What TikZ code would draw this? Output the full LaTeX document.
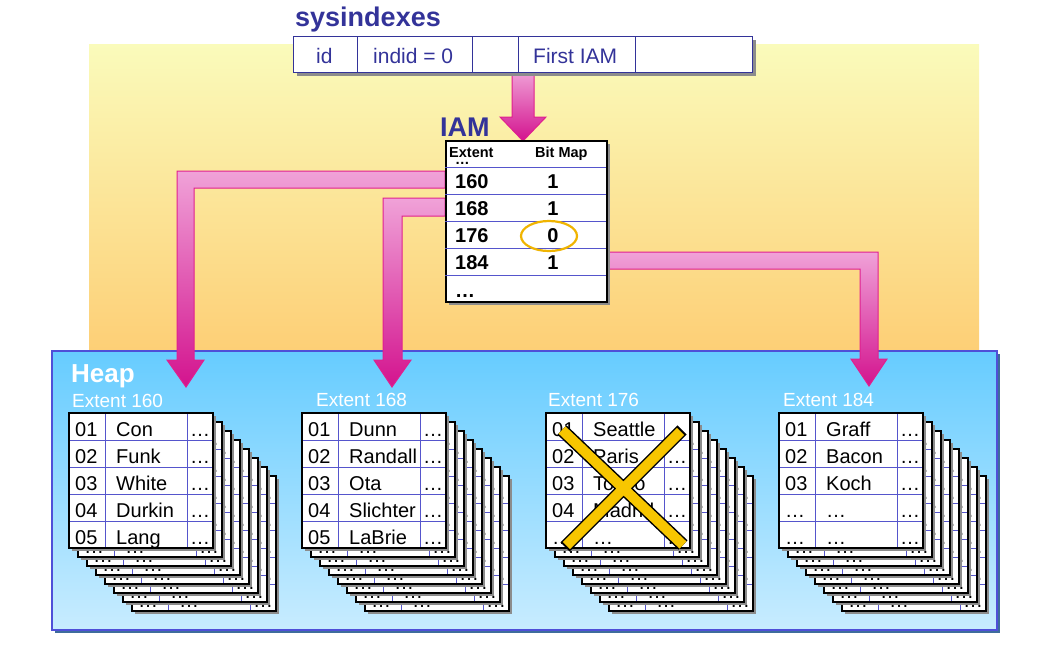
\documentclass[tikz,border=0pt]{standalone}
\usepackage{fontspec}
\setmainfont{Liberation Sans}
\usetikzlibrary{shapes.geometric,shadows}

\definecolor{titleblue}{HTML}{333399}
\definecolor{cellblue}{HTML}{5555CC}
\definecolor{pinklight}{HTML}{F0A2D8}
\definecolor{pinkdark}{HTML}{D3138E}
\definecolor{pinkedge}{HTML}{E0208F}
\definecolor{bandtop}{HTML}{FAFBBB}
\definecolor{bandbottom}{HTML}{FDCF76}
\definecolor{heaptop}{HTML}{66CCFF}
\definecolor{heapbottom}{HTML}{C8ECFF}
\definecolor{heapedge}{HTML}{4F4FD8}
\definecolor{heapshadow}{HTML}{3E6C9C}
\definecolor{crossgold}{HTML}{F7C600}
\definecolor{ringgold}{HTML}{F0B400}

\begin{document}
\begin{tikzpicture}[x=1pt, y=-1pt,
  title/.style={font=\fontsize{27}{30}\selectfont\bfseries, text=titleblue, inner sep=0, anchor=base west},
  systext/.style={font=\fontsize{21}{24}\selectfont, text=titleblue, inner sep=0, anchor=base west},
  iamhead/.style={font=\fontsize{14.5}{16}\selectfont\bfseries, inner sep=0, anchor=base west},
  iamtext/.style={font=\fontsize{20}{24}\selectfont\bfseries, inner sep=0, anchor=base west},
  celltext/.style={font=\fontsize{20}{24}\selectfont, inner sep=0, anchor=base west},
  dots/.style={celltext, anchor=base},
  extlabel/.style={font=\fontsize{19}{22}\selectfont, text=white, inner sep=0, anchor=base west},
  fatarrow/.style={draw=pinkedge, line width=1pt, top color=pinklight, bottom color=pinkdark},
  cardframe/.style={draw=black, line width=1.3pt},
  cellline/.style={draw=cellblue, line width=1pt},
  boxshadow/.style={drop shadow={shadow xshift=3pt, shadow yshift=-3pt, fill=black!45, opacity=1}},
  pics/extentpage/.style={code={
    \fill[black!45] (3,3) rectangle (147,138);
    \fill[white] (0,0) rectangle (144,135);
    \foreach \r in {1,...,4} \draw[cellline] (0,27*\r) -- (144,27*\r);
    \draw[cellline] (36,0) -- (36,135) (118,0) -- (118,135);
    \draw[cardframe] (0,0) rectangle (144,135);
  }}
]
\useasboundingbox (0,0) rectangle (1052,653);

% background band and heap area
\node[inner sep=0, minimum width=890pt, minimum height=306pt, anchor=north west,
  top color=bandtop, bottom color=bandbottom] (band) at (89,44) {};
\fill[heapshadow] (55,354) rectangle (1000,633);
\node[draw=heapedge, line width=1.5pt, inner sep=0, minimum width=945pt, minimum height=279pt,
  anchor=north west, top color=heaptop, bottom color=heapbottom] (heap) at (51,350) {};

% IAM -> extents
\draw[fatarrow] (445,171) -- (177,171) -- (177,360) -- (167,360) -- (186,387)
  -- (204,360) -- (194,360) -- (194,188) -- (445,188) -- cycle;
\draw[fatarrow] (445,198) -- (383,198) -- (383,360) -- (374,360) -- (392,387)
  -- (411,360) -- (402,360) -- (402,216) -- (445,216) -- cycle;
\draw[fatarrow] (606,252) -- (878,252) -- (878,359) -- (887,359) -- (869,386)
  -- (851,359) -- (860,359) -- (860,269) -- (606,269) -- cycle;

% sysindexes -> IAM
\draw[fatarrow] (512,70) -- (534,70) -- (534,117) -- (546,117) -- (523,141)
  -- (500,117) -- (512,117) -- cycle;

% sysindexes row
\node[title] (systitle) at (295,27) {sysindexes};
\node[draw=titleblue, line width=1.2pt, fill=white, boxshadow, inner sep=0,
  minimum width=459pt, minimum height=36pt, anchor=north west] (sysrow) at (293,36) {};
\foreach \xx in {357,472,518,635} \draw[titleblue, line width=1pt] (\xx,36) -- (\xx,72);
\node[systext] (sid) at (316,63) {id};
\node[systext] (sindid) at (373,63) {indid = 0};
\node[systext] (sfirst) at (533,63) {First IAM};

% IAM page
\node[title] (iamtitle) at (440,136) {IAM};
\node[draw=black, line width=1.5pt, fill=white, boxshadow, inner sep=0,
  minimum width=161pt, minimum height=161pt, anchor=north west] (iam) at (445,140) {};
\foreach \yy in {167,194,221,248,275} \draw[cellline] (445,\yy) -- (606,\yy);
\node[iamhead] (hdots) at (455,164) {…};
\node[iamhead] (hext) at (449,157) {Extent};
\node[iamhead] (hbit) at (535,157) {Bit Map};
\foreach \ext/\bit [count=\r from 0] in {160/1,168/1,176/0,184/1}{
  \node[iamtext] (e\ext) at (455,188+27*\r) {\ext};
  \node[iamtext, anchor=base] (b\ext) at (553,188+27*\r) {\bit};
}
\node[iamtext] (emore) at (455,297) {…};
\node[draw=ringgold, line width=2.2pt, ellipse, inner sep=0, minimum width=56pt,
  minimum height=30pt] (ring) at (549,236) {};

% heap labels
\node[font=\fontsize{26}{30}\selectfont\bfseries, text=white, inner sep=0, anchor=base west] (heaptitle) at (71,382) {Heap};
\node[extlabel] (x160) at (72,407) {Extent 160};
\node[extlabel] (x168) at (316,406) {Extent 168};
\node[extlabel] (x176) at (548,406) {Extent 176};
\node[extlabel] (x184) at (783,406) {Extent 184};

% stacked pages behind each extent (only their visible dots)
\foreach \sx [count=\s] in {69,302,546,779}
  \foreach \k in {7,6,...,1}{
    \pic at (\sx+9*\k,413+9*\k) {extentpage};
    \foreach \r in {0,...,4}
      \node[dots] (p\s-\k-\r-3) at (\sx+9*\k+131,413+9*\k+27*\r+23) {…};
    \node[celltext] (p\s-\k-4-1) at (\sx+9*\k+6,413+9*\k+131) {…};
    \node[celltext] (p\s-\k-4-2) at (\sx+9*\k+47,413+9*\k+131) {…};
  }

% front pages
\pic at (69,413) {extentpage};
\foreach \n/\nm [count=\r from 0] in {01/Con,02/Funk,03/White,04/Durkin,05/Lang}{
  \node[celltext] (a\r n) at (75,436+27*\r) {\n};
  \node[celltext] (a\r m) at (116,436+27*\r) {\nm};
  \node[dots] (a\r d) at (200,436+27*\r) {…};
}
\pic at (302,413) {extentpage};
\foreach \n/\nm [count=\r from 0] in {01/Dunn,02/Randall,03/Ota,04/Slichter,05/LaBrie}{
  \node[celltext] (c\r n) at (308,436+27*\r) {\n};
  \node[celltext] (c\r m) at (349,436+27*\r) {\nm};
  \node[dots] (c\r d) at (433,436+27*\r) {…};
}
\pic at (546,413) {extentpage};
\foreach \n/\nm [count=\r from 0] in {01/Seattle,02/Paris,03/Tokyo,04/Madrid,…/…}{
  \node[celltext] (t\r n) at (552,436+27*\r) {\n};
  \node[celltext] (t\r m) at (593,436+27*\r) {\nm};
  \node[dots] (t\r d) at (677,436+27*\r) {…};
}
\pic at (779,413) {extentpage};
\foreach \n/\nm [count=\r from 0] in {01/Graff,02/Bacon,03/Koch,…/…,…/…}{
  \node[celltext] (g\r n) at (785,436+27*\r) {\n};
  \node[celltext] (g\r m) at (826,436+27*\r) {\nm};
  \node[dots] (g\r d) at (910,436+27*\r) {…};
}

% extent 176 is free
\draw[black, line width=13pt] (562,430) -- (683,545) (682,430) -- (565,547);
\draw[crossgold, line width=10pt, shorten <=2pt, shorten >=2pt]
  (562,430) -- (683,545) (682,430) -- (565,547);
\end{tikzpicture}
\end{document}
